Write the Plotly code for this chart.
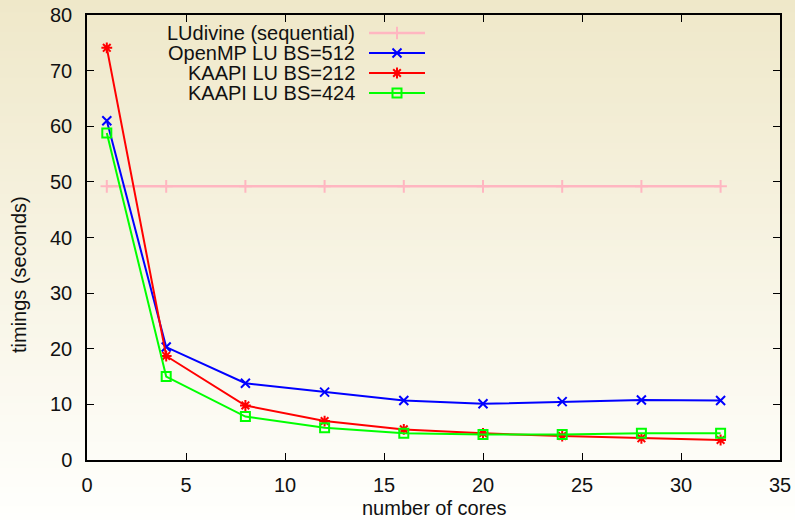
import plotly.graph_objects as go

cores = [1, 4, 8, 12, 16, 20, 24, 28, 32]
ludivine = [49.2, 49.2, 49.2, 49.2, 49.2, 49.2, 49.2, 49.2, 49.2]
openmp_512 = [61.0, 20.3, 13.8, 12.2, 10.7, 10.1, 10.5, 10.8, 10.7]
kaapi_212 = [74.1, 18.7, 9.8, 7.0, 5.5, 4.8, 4.3, 3.9, 3.6]
kaapi_424 = [58.8, 15.0, 7.8, 5.8, 4.8, 4.6, 4.6, 4.8, 4.8]

names = ["LUdivine (sequential)", "OpenMP LU BS=512", "KAAPI LU BS=212", "KAAPI LU BS=424"]
series = [ludivine, openmp_512, kaapi_212, kaapi_424]
colors = ["#FFB6C1", "#0000FF", "#FF0000", "#00FF00"]
symbols = ["cross-thin-open", "x-thin-open", "asterisk-open", "square-open"]
sizes = [9, 9, 9, 9]
widths = [2.5, 2, 2, 2]

FONT = "Liberation Sans, Arial, sans-serif"
W, H = 795, 520
ML, MR, MT, MB = 87, 15, 15, 60
pw, ph = W - ML - MR, H - MT - MB

def px_to_paper_x(px):
    return (px - ML) / pw

def px_to_paper_y(py):
    return (H - MB - py) / ph

fig = go.Figure()

for name, ys, c, s, sz, w in zip(names, series, colors, symbols, sizes, widths):
    fig.add_trace(go.Scatter(
        x=cores, y=ys, name=name, mode="lines+markers",
        line=dict(color=c, width=w),
        marker=dict(symbol=s, size=sz, color=c, line=dict(color=c, width=2)),
        showlegend=False,
    ))

# background gradient
shapes = []
top = (239, 232, 201)
bot = (255, 255, 253)
N = 80
for i in range(N):
    t = (i + 0.5) / N
    r = round(top[0] + (bot[0] - top[0]) * t)
    g = round(top[1] + (bot[1] - top[1]) * t)
    b = round(top[2] + (bot[2] - top[2]) * t)
    y0 = px_to_paper_y(H * i / N - 0.5)
    y1 = px_to_paper_y(H * (i + 1) / N + 0.5)
    shapes.append(dict(type="rect", xref="paper", yref="paper",
                       x0=px_to_paper_x(-2), x1=px_to_paper_x(W + 2), y0=y0, y1=y1,
                       fillcolor=f"rgb({r},{g},{b})", line=dict(width=0), layer="below"))

# custom legend
legend_rows_px = [33, 53, 73, 93]
text_right_px = 357
line_x0_px, line_x1_px, mark_x_px = 369, 425, 397
annotations = []
for name, c, s, w, ry in zip(names, colors, symbols, widths, legend_rows_px):
    annotations.append(dict(xref="paper", yref="paper", x=px_to_paper_x(text_right_px),
                            y=px_to_paper_y(ry), text=name, showarrow=False,
                            xanchor="right", yanchor="middle",
                            font=dict(family=FONT, size=20, color="#111")))
    shapes.append(dict(type="line", xref="paper", yref="paper",
                       x0=px_to_paper_x(line_x0_px), x1=px_to_paper_x(line_x1_px),
                       y0=px_to_paper_y(ry), y1=px_to_paper_y(ry),
                       line=dict(color=c, width=w), layer="above"))

fig.add_trace(go.Scatter(
    x=[px_to_paper_x(mark_x_px)] * 4, y=[px_to_paper_y(r) for r in legend_rows_px],
    xaxis="x2", yaxis="y2", mode="markers", showlegend=False, hoverinfo="skip",
    marker=dict(symbol=symbols, size=9, color=colors, line=dict(color=colors, width=2)),
))

# axis titles
annotations.append(dict(xref="paper", yref="paper", x=px_to_paper_x(ML + pw / 2 + 1),
                        y=px_to_paper_y(508), text="number of cores", showarrow=False,
                        xanchor="center", yanchor="middle",
                        font=dict(family=FONT, size=20, color="#111")))
annotations.append(dict(xref="paper", yref="paper", x=px_to_paper_x(19),
                        y=px_to_paper_y(275), text="timings (seconds)", showarrow=False,
                        xanchor="center", yanchor="middle", textangle=-90,
                        font=dict(family=FONT, size=20, color="#111")))

axis_common = dict(showline=True, linecolor="black", linewidth=1.5, mirror="allticks",
                   ticks="inside", ticklen=7, tickwidth=1, tickcolor="black",
                   showgrid=False, zeroline=False, automargin=False,
                   tickfont=dict(family=FONT, size=20, color="#111"))

fig.update_layout(
    width=W, height=H,
    margin=dict(l=ML, r=MR, t=MT, b=MB, autoexpand=False),
    paper_bgcolor="rgba(0,0,0,0)", plot_bgcolor="rgba(0,0,0,0)",
    xaxis=dict(range=[0, 35], dtick=5, ticklabelstandoff=6, **axis_common),
    yaxis=dict(range=[0, 80], dtick=10, ticklabelstandoff=9, **axis_common),
    xaxis2=dict(overlaying="x", range=[0, 1], visible=False, fixedrange=True),
    yaxis2=dict(overlaying="y", range=[0, 1], visible=False, fixedrange=True),
    shapes=shapes, annotations=annotations,
    showlegend=False,
)

fig.write_html("out.html", config={"displayModeBar": False},
               post_script="document.body.style.margin='0';document.body.style.overflow='hidden';")
